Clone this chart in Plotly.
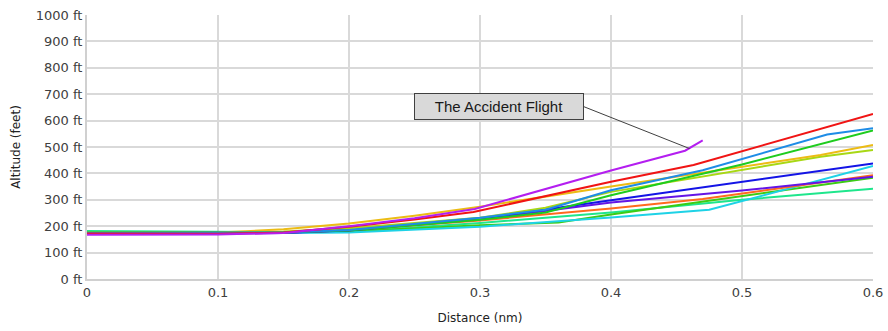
import plotly.graph_objects as go

# ---- data (distance in nm, altitude in feet) ----
red_dist = [0, 0.1, 0.15, 0.2, 0.25, 0.295, 0.4, 0.463, 0.6]
red_alt = [172, 171, 176, 198, 225, 254, 368, 432, 625]

dodger_dist = [0, 0.1, 0.15, 0.2, 0.3, 0.35, 0.4, 0.47, 0.565, 0.6]
dodger_alt = [174, 174, 176, 186, 232, 262, 336, 412, 547, 571]

green_dist = [0, 0.1, 0.15, 0.2, 0.3, 0.35, 0.4, 0.5, 0.6]
green_alt = [176, 175, 176, 184, 224, 252, 317, 434, 563]

gold_dist = [0, 0.1, 0.15, 0.2, 0.25, 0.3, 0.4, 0.47, 0.56, 0.6]
gold_alt = [175, 176, 188, 210, 240, 274, 350, 403, 470, 508]

ygreen_dist = [0, 0.1, 0.15, 0.2, 0.3, 0.35, 0.4, 0.5, 0.56, 0.6]
ygreen_alt = [175, 175, 180, 192, 232, 270, 330, 412, 463, 489]

dblue_dist = [0, 0.1, 0.15, 0.2, 0.3, 0.4, 0.6]
dblue_alt = [173, 173, 175, 185, 228, 298, 438]

cyan_dist = [0, 0.1, 0.15, 0.2, 0.3, 0.4, 0.475, 0.6]
cyan_alt = [178, 176, 174, 176, 198, 233, 262, 428]

orange_dist = [0, 0.1, 0.15, 0.2, 0.3, 0.4, 0.47, 0.6]
orange_alt = [173, 173, 176, 186, 222, 267, 303, 393]

indigo_dist = [0, 0.1, 0.15, 0.2, 0.3, 0.4, 0.5, 0.6]
indigo_alt = [171, 172, 174, 184, 226, 290, 335, 387]

green2_dist = [0, 0.1, 0.15, 0.2, 0.3, 0.36, 0.4, 0.6]
green2_alt = [178, 176, 176, 180, 204, 214, 244, 384]

teal_dist = [0, 0.1, 0.15, 0.2, 0.3, 0.4, 0.5, 0.6]
teal_alt = [182, 178, 177, 180, 212, 252, 300, 342]

accident_dist = [0, 0.1, 0.15, 0.2, 0.25, 0.296, 0.4, 0.4565, 0.47]
accident_alt = [168, 169, 174, 200, 230, 265, 411, 486, 525]

x_ticks = [0, 0.1, 0.2, 0.3, 0.4, 0.5, 0.6]
x_tick_labels = ["0", "0.1", "0.2", "0.3", "0.4", "0.5", "0.6"]
y_ticks = [0, 100, 200, 300, 400, 500, 600, 700, 800, 900, 1000]
y_tick_labels = [f"{v} ft" for v in y_ticks]

annotation_text = "The Accident Flight"
annotation_point = (0.46, 494)

series = [
    (teal_dist, teal_alt, "#1ee68c"),
    (green2_dist, green2_alt, "#3ccc14"),
    (cyan_dist, cyan_alt, "#1ed2e6"),
    (orange_dist, orange_alt, "#ff6a1e"),
    (indigo_dist, indigo_alt, "#6414e6"),
    (dblue_dist, dblue_alt, "#1414e6"),
    (ygreen_dist, ygreen_alt, "#a8d814"),
    (gold_dist, gold_alt, "#ecbc14"),
    (green_dist, green_alt, "#1ecc1e"),
    (dodger_dist, dodger_alt, "#1e8ce6"),
    (red_dist, red_alt, "#f01414"),
    (accident_dist, accident_alt, "#b41ef0"),
]

fig = go.Figure()
for d, a, c in series:
    fig.add_trace(go.Scatter(x=d, y=a, mode="lines",
                             line=dict(color=c, width=2),
                             showlegend=False, hoverinfo="skip"))

fig.add_annotation(
    x=annotation_point[0], y=annotation_point[1], xref="x", yref="y",
    text=annotation_text, showarrow=True, arrowhead=0, arrowwidth=1,
    arrowcolor="#404040", ax=-106, ay=-42, xanchor="right", yanchor="middle",
    bgcolor="#d9d9d9", bordercolor="#404040", borderwidth=1, borderpad=1,
    width=166, height=23,
    font=dict(family="Liberation Sans", size=15, color="#1a1a1a"),
)

fig.update_layout(
    width=888, height=331,
    margin=dict(l=87, r=15, t=15, b=52),
    paper_bgcolor="white", plot_bgcolor="white",
    xaxis=dict(range=[0, 0.6], tickvals=x_ticks, ticktext=x_tick_labels,
               automargin=False,
               showgrid=True, gridcolor="#d9d9d9", gridwidth=2,
               zeroline=False, showline=True, linecolor="#d0d0d0", linewidth=2,
               ticks="", tickfont=dict(family="DejaVu Sans", size=13, color="#404040"),
               title=dict(text="Distance (nm)", standoff=15,
                          font=dict(family="DejaVu Sans", size=12, color="#222"))),
    yaxis=dict(range=[0, 1000], tickvals=y_ticks, ticktext=y_tick_labels,
               automargin=False,
               showgrid=True, gridcolor="#d9d9d9", gridwidth=2,
               zeroline=False, showline=True, linecolor="#d0d0d0", linewidth=2,
               ticks="", tickfont=dict(family="DejaVu Sans", size=13, color="#404040"),
               title=dict(text="Altitude (feet)", standoff=13,
                          font=dict(family="DejaVu Sans", size=12, color="#222"))),
)

fig.write_html("out.html", config={"displayModeBar": False},
               post_script="document.body.style.margin='0';")
